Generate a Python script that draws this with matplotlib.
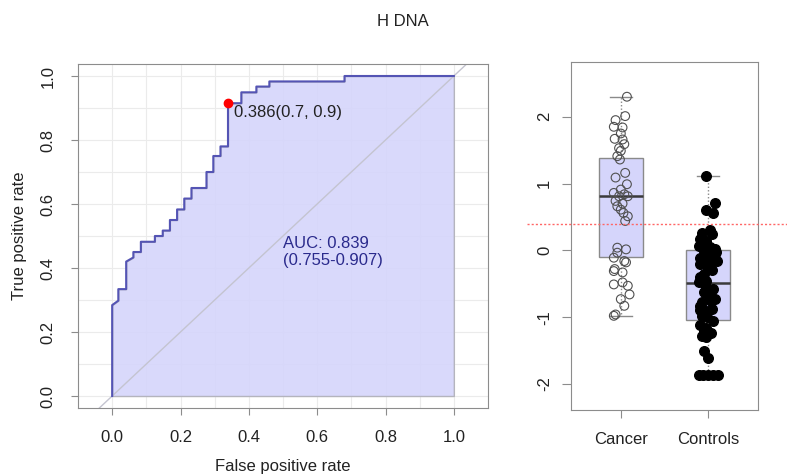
import matplotlib
matplotlib.use("Agg")
import matplotlib.pyplot as plt
import matplotlib.transforms as mtransforms

plt.rcParams['font.family'] = ['Liberation Sans', 'DejaVu Sans']
plt.rcParams['axes.unicode_minus'] = False

# ROC curve vertices (false positive rate, true positive rate)
fpr = [0, 0, 0.018, 0.018, 0.041, 0.041, 0.062, 0.062, 0.084, 0.084, 0.125, 0.125,
       0.148, 0.148, 0.169, 0.169, 0.19, 0.19, 0.211, 0.211, 0.232, 0.232, 0.276, 0.276,
       0.296, 0.296, 0.317, 0.317, 0.339, 0.339, 0.378, 0.378, 0.422, 0.422, 0.46, 0.46,
       0.68, 0.68, 1.0]
tpr = [0, 0.284, 0.298, 0.334, 0.334, 0.42, 0.433, 0.45, 0.45, 0.482, 0.482, 0.50,
       0.50, 0.517, 0.517, 0.55, 0.55, 0.583, 0.583, 0.617, 0.617, 0.65, 0.65, 0.70,
       0.70, 0.75, 0.75, 0.78, 0.78, 0.915, 0.915, 0.949, 0.949, 0.967, 0.967, 0.983,
       0.983, 1.0, 1.0]
best_point = (0.339, 0.915)
best_label = "0.386(0.7, 0.9)"
auc_label = "AUC: 0.839\n(0.755-0.907)"

# boxplot panel
groups = ["Cancer", "Controls"]
box_stats = [
    dict(med=0.81, q1=-0.10, q3=1.39, whislo=-0.99, whishi=2.30),
    dict(med=-0.49, q1=-1.05, q3=0.00, whislo=-1.86, whishi=1.12),
]
cutoff = 0.40

cancer_vals = [2.30, 2.01, 1.95, 1.85, 1.84, 1.75, 1.67, 1.66, 1.59, 1.53, 1.49, 1.41,
               1.36, 1.16, 1.09, 0.99, 0.91, 0.86, 0.84, 0.81, 0.81, 0.74, 0.70, 0.66,
               0.61, 0.56, 0.51, 0.44, 0.04, 0.015, -0.035, -0.11, -0.16, -0.18, -0.28,
               -0.31, -0.33, -0.48, -0.51, -0.53, -0.66, -0.73, -0.83, -0.96, -0.98]
cancer_jit = [0.07, 0.05, -0.06, -0.08, 0.02, 0.0, -0.07, 0.02, 0.04, -0.02, 0.0, -0.04,
              -0.01, 0.05, -0.06, 0.07, 0.0, -0.08, 0.04, -0.02, 0.08, -0.06, 0.02, -0.04,
              0.0, 0.03, 0.08, 0.05, -0.04, 0.06, -0.04, -0.08, 0.04, 0.06, -0.07, -0.08,
              0.02, 0.02, -0.08, 0.08, 0.10, 0.0, 0.04, -0.06, -0.08]

controls_vals = [1.12, 0.71, 0.60, 0.56, 0.31, 0.26, 0.24, 0.165, 0.14, 0.10, 0.06, 0.05,
                 0.015, -0.01, -0.03, -0.035, -0.06, -0.06, -0.11, -0.13, -0.16, -0.16,
                 -0.20, -0.21, -0.26, -0.30, -0.36, -0.40, -0.46, -0.48, -0.55, -0.58,
                 -0.63, -0.68, -0.73, -0.76, -0.78, -0.83, -0.88, -0.90, -0.91, -0.98,
                 -1.00, -1.06, -1.11, -1.16, -1.20, -1.23, -1.28, -1.30, -1.51, -1.61,
                 -1.86, -1.86, -1.86, -1.86, -1.86]
controls_jit = [-0.03, 0.08, -0.02, 0.06, 0.02, -0.07, 0.04, -0.09, -0.02, -0.02, -0.11, 0.02,
                0.08, -0.05, 0.09, -0.03, 0.0, 0.08, -0.09, -0.07, 0.06, 0.10, -0.03, -0.09,
                0.0, 0.04, -0.05, -0.09, -0.02, -0.11, -0.03, 0.06, -0.05, 0.01, 0.08, 0.03,
                -0.07, -0.09, 0.04, -0.09, -0.03, -0.07, -0.01, 0.06, -0.09, -0.03, -0.05,
                0.03, -0.07, -0.03, -0.05, 0.0, -0.11, -0.06, 0.0, 0.06, 0.11]

W, H = 787, 475
fig = plt.figure(figsize=(W / 100, H / 100), dpi=100)

spine_col = '#8c8c8c'
text_col = '#222222'

# ---- ROC panel ----
ax = fig.add_axes([78 / W, 1 - 408 / H, 410 / W, 344 / H])
ax.set_xlim(-0.1, 1.1)
ax.set_ylim(-0.0375, 1.0375)
ax.set_xticks([i / 10 for i in range(11)], minor=True)
ax.set_yticks([i / 10 for i in range(11)], minor=True)
ax.grid(which='both', color='#ebebeb', linestyle='-', linewidth=0.8)
ax.set_axisbelow(True)

ax.fill_between(fpr, tpr, 0, facecolor='#d5d5fb', edgecolor='#b0b0b8',
                linewidth=1, alpha=0.9, zorder=2)
ax.axline((0, 0), (1, 1), color='#c4c4d0', linewidth=1, zorder=2.5)
ax.plot(fpr, tpr, color='#5454b4', linewidth=1.5, zorder=3)
ax.plot(*best_point, 'o', color='red', markersize=6, zorder=4)
ax.text(0.356, 0.8875, best_label, fontsize=12, color=text_col, va='center', ha='left')
ax.text(0.50, 0.45, auc_label, fontsize=12, color='#2a2a8c', va='center', ha='left',
        linespacing=1.1)

ax.set_xticks([0, 0.2, 0.4, 0.6, 0.8, 1.0])
ax.set_yticks([0, 0.2, 0.4, 0.6, 0.8, 1.0])
ax.set_xticklabels(['0.0', '0.2', '0.4', '0.6', '0.8', '1.0'])
ax.set_yticklabels(['0.0', '0.2', '0.4', '0.6', '0.8', '1.0'])
ax.tick_params(which='major', length=5, color=spine_col, labelsize=12,
               labelcolor=text_col, pad=11)
ax.tick_params(which='minor', length=0)
ax.tick_params(axis='y', labelrotation=90)
for lab in ax.get_yticklabels():
    lab.set_va('center')
for s in ax.spines.values():
    s.set_color(spine_col)
ax.set_xlabel('False positive rate', fontsize=12, labelpad=10, color=text_col)
ax.set_ylabel('True positive rate', fontsize=12, labelpad=10, color=text_col)

# ---- boxplot panel ----
bx = fig.add_axes([571 / W, 1 - 410 / H, 187 / W, 348 / H])
stats = [dict(s, label=g) for s, g in zip(box_stats, groups)]
bx.bxp(stats, positions=[1, 2], widths=0.5, showfliers=False, patch_artist=True,
       boxprops=dict(facecolor='#d5d5fb', edgecolor='#8a8a8a', linewidth=1),
       medianprops=dict(color='#3a3a3a', linewidth=1.8),
       whiskerprops=dict(color='#8a8a8a', linestyle=(0, (1, 1.5)), linewidth=1),
       capprops=dict(color='#8a8a8a', linewidth=1), capwidths=0.25)

bx.scatter([1 + j for j in cancer_jit], cancer_vals, s=40, facecolors='none',
           edgecolors='#505050', linewidths=0.8, zorder=4)
bx.scatter([2 + j for j in controls_jit], controls_vals, s=48, color='black', zorder=4)

trans = mtransforms.blended_transform_factory(bx.transAxes, bx.transData)
bx.plot([-0.235, 1.16], [cutoff, cutoff], color='#ff6666', linestyle=(0, (1.5, 1.5)),
        linewidth=1, transform=trans, clip_on=False, zorder=5)

bx.set_xlim(0.43, 2.57)
bx.set_ylim(-2.39, 2.82)
bx.set_yticks([-2, -1, 0, 1, 2])
bx.set_xticks([1, 2])
bx.set_xticklabels(groups)
bx.tick_params(axis='y', length=6.5, color=spine_col, labelsize=12, labelcolor=text_col,
               pad=7, labelrotation=90)
bx.tick_params(axis='x', length=6, color=spine_col, labelsize=12, labelcolor=text_col,
               pad=10)
for lab in bx.get_yticklabels():
    lab.set_va('center')
for s in bx.spines.values():
    s.set_color(spine_col)

fig.text(403 / W, 1 - 22 / H, 'H DNA', ha='center', va='center', fontsize=12,
         color=text_col)

fig.savefig('out.png', dpi=100)
